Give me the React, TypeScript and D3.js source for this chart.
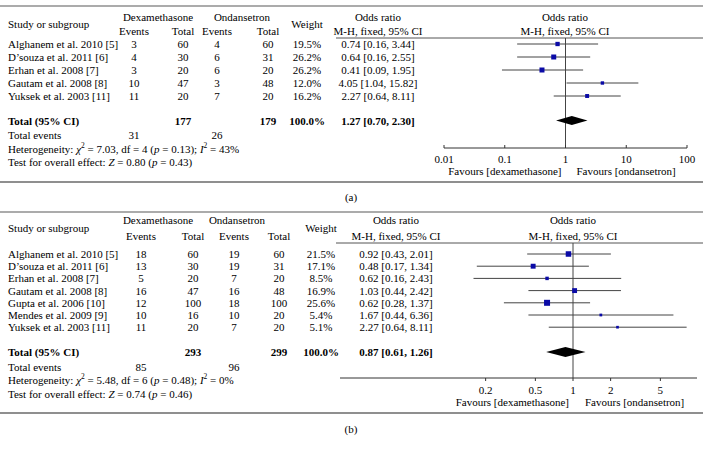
import React from "react";
import * as d3 from "d3";

// ---------- Data: panel (a) ----------
const studiesA = ["Alghanem et al. 2010 [5]", "D\u2019souza et al. 2011 [6]", "Erhan et al. 2008 [7]", "Gautam et al. 2008 [8]", "Yuksek et al. 2003 [11]"];
const dexEventsA = [3, 4, 3, 10, 11];
const dexTotalA = [60, 30, 20, 47, 20];
const ondEventsA = [4, 6, 6, 3, 7];
const ondTotalA = [60, 31, 20, 48, 20];
const weightA = [19.5, 26.2, 26.2, 12.0, 16.2];
const orA = [0.74, 0.64, 0.41, 4.05, 2.27];
const lowA = [0.16, 0.16, 0.09, 1.04, 0.64];
const highA = [3.44, 2.55, 1.95, 15.82, 8.11];
const totalA = { dexTotal: 177, ondTotal: 179, weight: "100.0%", or: 1.27, low: 0.7, high: 2.3, dexEvents: 31, ondEvents: 26 };
const hetA = { chi2: "7.03", df: 4, p: "0.13", i2: "43%", z: "0.80", pz: "0.43" };
const ticksA = [0.01, 0.1, 1, 10, 100];

// ---------- Data: panel (b) ----------
const studiesB = ["Alghanem et al. 2010 [5]", "D\u2019souza et al. 2011 [6]", "Erhan et al. 2008 [7]", "Gautam et al. 2008 [8]", "Gupta et al. 2006 [10]", "Mendes et al. 2009 [9]", "Yuksek et al. 2003 [11]"];
const dexEventsB = [18, 13, 5, 16, 12, 10, 11];
const dexTotalB = [60, 30, 20, 47, 100, 16, 20];
const ondEventsB = [19, 19, 7, 16, 18, 10, 7];
const ondTotalB = [60, 31, 20, 48, 100, 20, 20];
const weightB = [21.5, 17.1, 8.5, 16.9, 25.6, 5.4, 5.1];
const orB = [0.92, 0.48, 0.62, 1.03, 0.62, 1.67, 2.27];
const lowB = [0.43, 0.17, 0.16, 0.44, 0.28, 0.44, 0.64];
const highB = [2.01, 1.34, 2.43, 2.42, 1.37, 6.36, 8.11];
const totalB = { dexTotal: 293, ondTotal: 299, weight: "100.0%", or: 0.87, low: 0.61, high: 1.26, dexEvents: 85, ondEvents: 96 };
const hetB = { chi2: "5.48", df: 6, p: "0.48", i2: "0%", z: "0.74", pz: "0.46" };
const ticksB = [0.2, 0.5, 1, 2, 5];

const FONT = "'Liberation Serif', 'Times New Roman', serif";
const FS = 11;

const fmt2 = d3.format(".2f");
const fmtW = (w: number) => w.toFixed(1) + "%";

function Panel(props: any) {
  const {
    studies, dexEvents, dexTotal, ondEvents, ondTotal, weight, or, low, high, total, het, ticks, L,
  } = props;
  const x = d3.scaleLog().domain(L.domain).range(L.range);
  const rowY = (i: number) => L.row0 + i * L.rowStep;
  const sq = d3.scaleSqrt().domain([0, d3.max(weight) as number]).range([0, L.maxSq]);
  const x1 = x(1);
  const tickLabel = (t: number) => (t >= 1 ? d3.format("d")(t) : String(t));
  const axisX0 = L.axisX0 ?? x(L.domain[0]);
  const axisX1 = L.axisX1 ?? x(L.domain[1]);
  const C = L.cols;
  const txt = { fontFamily: FONT, fontSize: FS, fill: "#000" } as any;
  const sup = (s: string) => (
    <>
      <tspan dy={-4} fontSize={7.5}>{s}</tspan>
      <tspan dy={4}>{" "}</tspan>
    </>
  );
  return (
    <g>
      {/* rules */}
      <line x1={0} x2={703} y1={L.topLine} y2={L.topLine} stroke="#8f8f8f" strokeWidth={1.6} />
      <line x1={L.hdrLineX0} x2={703} y1={L.hdrLine} y2={L.hdrLine} stroke="#555" strokeWidth={1} />
      <line x1={0} x2={703} y1={L.bottomLine} y2={L.bottomLine} stroke="#8f8f8f" strokeWidth={2} />

      {/* headers */}
      <g style={txt} dominantBaseline="central">
        <text x={C.study} y={L.hdrMid}>Study or subgroup</text>
        <text x={C.dexHdr} y={L.hdr1} textAnchor="middle">Dexamethasone</text>
        <text x={C.ondHdr} y={L.hdr1} textAnchor="middle">Ondansetron</text>
        <text x={C.dexEv} y={L.hdr2} textAnchor="middle">Events</text>
        <text x={C.dexTot} y={L.hdr2} textAnchor="middle">Total</text>
        <text x={C.ondEv} y={L.hdr2} textAnchor="middle">Events</text>
        <text x={C.ondTot} y={L.hdr2} textAnchor="middle">Total</text>
        <text x={C.weight} y={L.hdrMid} textAnchor="middle">Weight</text>
        <text x={C.orTxt} y={L.hdr1} textAnchor="middle">Odds ratio</text>
        <text x={C.orTxt} y={L.hdr2} textAnchor="middle">M-H, fixed, 95% CI</text>
        <text x={C.forestHdr} y={L.hdr1} textAnchor="middle">Odds ratio</text>
        <text x={C.forestHdr} y={L.hdr2} textAnchor="middle">M-H, fixed, 95% CI</text>
      </g>

      {/* study rows */}
      <g style={txt} dominantBaseline="central">
        {studies.map((s: string, i: number) => (
          <g key={s}>
            <text x={C.study} y={rowY(i)}>{s}</text>
            <text x={C.dexEv} y={rowY(i)} textAnchor="middle">{dexEvents[i]}</text>
            <text x={C.dexTot} y={rowY(i)} textAnchor="middle">{dexTotal[i]}</text>
            <text x={C.ondEv} y={rowY(i)} textAnchor="middle">{ondEvents[i]}</text>
            <text x={C.ondTot} y={rowY(i)} textAnchor="middle">{ondTotal[i]}</text>
            <text x={C.weight} y={rowY(i)} textAnchor="middle">{fmtW(weight[i])}</text>
            <text x={C.orTxt} y={rowY(i)} textAnchor="middle">{`${fmt2(or[i])} [${fmt2(low[i])}, ${fmt2(high[i])}]`}</text>
          </g>
        ))}
      </g>

      {/* totals */}
      <g style={txt} dominantBaseline="central" fontWeight="bold">
        <text x={C.study} y={L.totalY}>Total (95% CI)</text>
        <text x={C.dexTot} y={L.totalY} textAnchor="middle">{total.dexTotal}</text>
        <text x={C.ondTot} y={L.totalY} textAnchor="middle">{total.ondTotal}</text>
        <text x={C.weight} y={L.totalY} textAnchor="middle">{total.weight}</text>
        <text x={C.orTxt} y={L.totalY} textAnchor="middle">{`${fmt2(total.or)} [${fmt2(total.low)}, ${fmt2(total.high)}]`}</text>
      </g>
      <g style={txt} dominantBaseline="central">
        <text x={C.study} y={L.totEvY}>Total events</text>
        <text x={C.dexEv} y={L.totEvY} textAnchor="middle">{total.dexEvents}</text>
        <text x={C.ondEv} y={L.totEvY} textAnchor="middle">{total.ondEvents}</text>
        <text x={C.study} y={L.hetY}>
          Heterogeneity: <tspan fontStyle="italic">χ</tspan>{sup("2")}= {het.chi2}, df = {het.df} (<tspan fontStyle="italic">p</tspan> = {het.p}); <tspan fontStyle="italic">I</tspan>{sup("2")}= {het.i2}
        </text>
        <text x={C.study} y={L.testY}>
          Test for overall effect: <tspan fontStyle="italic">Z</tspan> = {het.z} (<tspan fontStyle="italic">p</tspan> = {het.pz})
        </text>
      </g>

      {/* forest */}
      <line x1={x1} x2={x1} y1={L.hdrLine} y2={L.axisY} stroke="#444" strokeWidth={1} />
      {studies.map((s: string, i: number) => {
        const side = sq(weight[i]);
        return (
          <g key={"f" + s}>
            <line x1={x(low[i])} x2={x(high[i])} y1={rowY(i)} y2={rowY(i)} stroke="#444" strokeWidth={1} />
            <rect x={x(or[i]) - side / 2} y={rowY(i) - side / 2} width={side} height={side} fill="#0a0aa6" />
          </g>
        );
      })}
      <path
        d={`M${x(total.low)},${L.totalY} L${x(total.or)},${L.totalY - L.diamondH / 2} L${x(total.high)},${L.totalY} L${x(total.or)},${L.totalY + L.diamondH / 2} Z`}
        fill="#000"
      />

      {/* axis */}
      <line x1={axisX0} x2={axisX1} y1={L.axisY} y2={L.axisY} stroke="#333" strokeWidth={1} />
      {ticks.map((t: number) => (
        <g key={"t" + t}>
          <line x1={x(t)} x2={x(t)} y1={L.axisY} y2={L.axisY + L.tickLen} stroke="#333" strokeWidth={1} />
          <text x={x(t)} y={L.tickLabelY} textAnchor="middle" dominantBaseline="central" style={txt}>{tickLabel(t)}</text>
        </g>
      ))}
      <text x={x1 - L.favGapL} y={L.favY} textAnchor="end" dominantBaseline="central" style={txt}>Favours [dexamethasone]</text>
      <text x={x1 + L.favGapR} y={L.favY} textAnchor="start" dominantBaseline="central" style={txt}>Favours [ondansetron]</text>

      <text x={351} y={L.labelY} textAnchor="middle" dominantBaseline="central" style={txt}>{L.label}</text>
    </g>
  );
}

const layoutA = {
  label: "(a)",
  domain: [0.01, 100], range: [444, 687],
  topLine: 6, hdr1: 17, hdrMid: 24, hdr2: 31, hdrLine: 38, hdrLineX0: 336,
  row0: 44, rowStep: 13, totalY: 120.5, totEvY: 135, hetY: 148.5, testY: 162,
  axisY: 148, tickLen: -3, tickLabelY: 158.5, favY: 171, bottomLine: 182, labelY: 196.5,
  favGapL: 4, favGapR: 11, maxSq: 5, diamondH: 9,
  cols: { study: 8, dexHdr: 158, ondHdr: 242, dexEv: 134, dexTot: 183, ondEv: 217, ondTot: 268, weight: 307, orTxt: 378, forestHdr: 565 },
};

const layoutB = {
  label: "(b)",
  domain: [0.2, 5], range: [573 - 125 * Math.log10(5), 573 + 125 * Math.log10(5)],
  axisX0: 340, axisX1: 697,
  topLine: 212, hdr1: 220, hdrMid: 228, hdr2: 236, hdrLine: 243, hdrLineX0: 336,
  row0: 254, rowStep: 12.2, totalY: 352, totEvY: 366.5, hetY: 380, testY: 393.5,
  axisY: 378, tickLen: 3, tickLabelY: 390, favY: 402, bottomLine: 413, labelY: 429,
  favGapL: 4, favGapR: 12, maxSq: 6, diamondH: 10,
  cols: { study: 8, dexHdr: 158, ondHdr: 237, dexEv: 141, dexTot: 193, ondEv: 234, ondTot: 279, weight: 321, orTxt: 396, forestHdr: 573 },
};

export default function App() {
  return (
    <svg width={703} height={452} style={{ position: "absolute", left: 0, top: 0, background: "#fff" }}>
      <rect width={703} height={452} fill="#fff" />
      <Panel studies={studiesA} dexEvents={dexEventsA} dexTotal={dexTotalA} ondEvents={ondEventsA} ondTotal={ondTotalA}
        weight={weightA} or={orA} low={lowA} high={highA} total={totalA} het={hetA} ticks={ticksA} L={layoutA} />
      <Panel studies={studiesB} dexEvents={dexEventsB} dexTotal={dexTotalB} ondEvents={ondEventsB} ondTotal={ondTotalB}
        weight={weightB} or={orB} low={lowB} high={highB} total={totalB} het={hetB} ticks={ticksB} L={layoutB} />
    </svg>
  );
}
